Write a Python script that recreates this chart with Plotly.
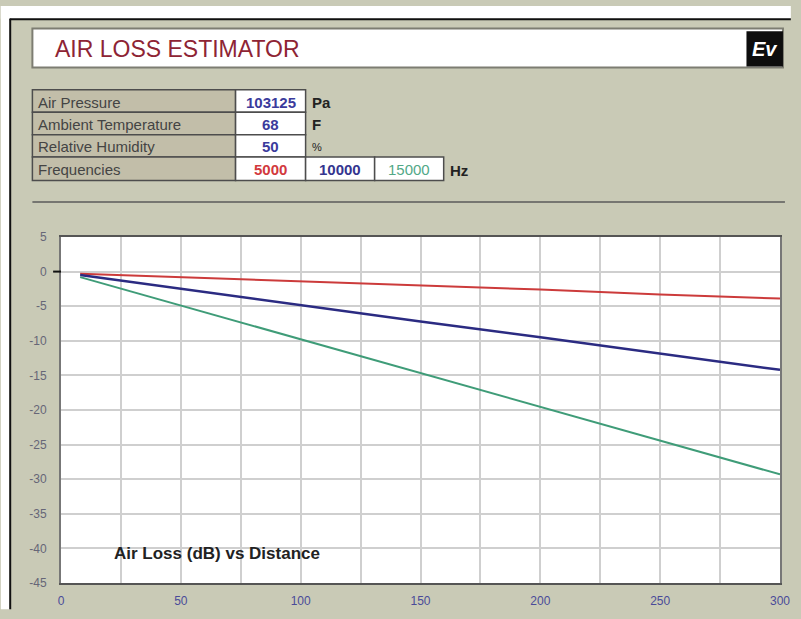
import plotly.graph_objects as go

# ---- data ----
distance = [8, 50, 100, 150, 200, 250, 300]
loss_5000 = [-0.3, -0.8, -1.4, -2.0, -2.6, -3.3, -3.9]
loss_10000 = [-0.5, -2.5, -4.8, -7.2, -9.5, -11.9, -14.2]
loss_15000 = [-0.8, -4.9, -9.8, -14.7, -19.6, -24.4, -29.3]

y_tickvals = [5, 0, -5, -10, -15, -20, -25, -30, -35, -40, -45]
y_ticktext = ["5", "0", "-5", "-10", "-15", "-20", "-25", "-30", "-35", "-40", "-45"]
x_tickvals = [0, 50, 100, 150, 200, 250, 300]
x_ticktext = ["0", "50", "100", "150", "200", "250", "300"]

param_labels = ["Air Pressure", "Ambient Temperature", "Relative Humidity", "Frequencies"]
param_values = ["103125", "68", "50"]
param_units = ["Pa", "F", "%"]
freq_values = ["5000", "10000", "15000"]
freq_unit = "Hz"
title_text = "AIR LOSS ESTIMATOR"
chart_label = "Air Loss (dB) vs Distance"

W, H = 801, 619
L, R, T, B = 61, 790, 237, 592
PW, PH = R - L, B - T

def px(x):
    return (x - L) / PW

def py(y):
    return (B - y) / PH

BG = "#c9cab6"
FONT = "Liberation Sans, Arial, sans-serif"

fig = go.Figure()
fig.add_trace(go.Scatter(x=distance, y=loss_5000, mode="lines", line=dict(color="#cc3b3b", width=2), name="5000"))
fig.add_trace(go.Scatter(x=distance, y=loss_10000, mode="lines", line=dict(color="#2b2b82", width=2.5), name="10000"))
fig.add_trace(go.Scatter(x=distance, y=loss_15000, mode="lines", line=dict(color="#3f9c78", width=2), name="15000"))

shapes = []
annotations = []

def rect(x0, y0, x1, y1, fill, line="rgba(0,0,0,0)", lw=0):
    shapes.append(dict(type="rect", xref="paper", yref="paper", x0=px(x0), x1=px(x1), y0=py(y1), y1=py(y0),
                       fillcolor=fill, line=dict(color=line, width=lw), layer="below"))

def hline(x0, x1, y, color, lw):
    shapes.append(dict(type="line", xref="paper", yref="paper", x0=px(x0), x1=px(x1), y0=py(y), y1=py(y),
                       line=dict(color=color, width=lw), layer="above"))

def vline(x, y0, y1, color, lw):
    shapes.append(dict(type="line", xref="paper", yref="paper", x0=px(x), x1=px(x), y0=py(y0), y1=py(y1),
                       line=dict(color=color, width=lw), layer="above"))

def text(x, y, s, size, color, bold=False, xanchor="left", italic=False):
    if bold:
        s = "<b>" + s + "</b>"
    if italic:
        s = "<i>" + s + "</i>"
    annotations.append(dict(xref="paper", yref="paper", x=px(x), y=py(y), text=s, showarrow=False,
                            xanchor=xanchor, yanchor="middle", font=dict(family=FONT, size=size, color=color)))

# outside-frame white strips
rect(0, 0, W, 13, "white")
rect(0, 0, 9, H, "white")
hline(9, W, 13.5, "#111111", 2)
vline(9.5, 13, H, "#111111", 2)

# title box
rect(32, 23, 793, 63, "white", "#7d7d72", 2)
text(53, 44, title_text, 23, "#8e2434")
rect(756, 26, 793, 62, "#0d0d0d")
text(774.5, 44, "Ev", 20, "white", bold=True, xanchor="center", italic=True)

# parameter table
rows = [86, 109, 132, 155, 179]
for i, lab in enumerate(param_labels):
    y0, y1 = rows[i], rows[i + 1]
    rect(32, y0, 238, y1, "#c2bea9", "#4d4d4d", 1.5)
    text(36, (y0 + y1) / 2 + 1, lab, 15, "#444444")
value_cols = [(238, 309), (309, 379), (379, 449)]
value_color = "#3b3b9c"
for i, v in enumerate(param_values):
    y0, y1 = rows[i], rows[i + 1]
    x0, x1 = value_cols[0]
    rect(x0, y0, x1, y1, "white", "#4d4d4d", 1.5)
    text((x0 + x1) / 2, (y0 + y1) / 2 + 1, v, 15, value_color, bold=True, xanchor="center")
    text(313, (y0 + y1) / 2 + 1, param_units[i], 15 if i < 2 else 11, "#222222", bold=(i < 2))
freq_colors = ["#d2393d", "#35358f", "#52a887"]
y0, y1 = rows[3], rows[4]
for (x0, x1), v, c in zip(value_cols, freq_values, freq_colors):
    rect(x0, y0, x1, y1, "white", "#4d4d4d", 1.5)
    text((x0 + x1) / 2, (y0 + y1) / 2 + 1, v, 15, c, bold=(c != "#52a887"), xanchor="center")
text(453, (y0 + y1) / 2 + 2, freq_unit, 15, "#222222", bold=True)

# separator
hline(32, 795, 201, "#5a5a5a", 1.5)

# zero tick
shapes.append(dict(type="line", xref="paper", yref="y", x0=px(53), x1=0, y0=0, y1=0,
                   line=dict(color="#111111", width=2), layer="above"))

# chart label
annotations.append(dict(xref="x", yref="y", x=65, y=-40.8, text="<b>" + chart_label + "</b>", showarrow=False,
                        xanchor="center", yanchor="middle", font=dict(family=FONT, size=17, color="#222222")))

fig.update_layout(
    width=W, height=H,
    margin=dict(l=L, r=W - R, t=T, b=H - B, pad=0),
    paper_bgcolor=BG, plot_bgcolor="white",
    showlegend=False,
    shapes=shapes, annotations=annotations,
    font=dict(family=FONT),
)
fig.update_xaxes(range=[0, 300], tickvals=x_tickvals, ticktext=x_ticktext,
                 showgrid=True, gridcolor="#cfcfcf", gridwidth=1.5,
                 minor=dict(dtick=25, tick0=0, showgrid=True, gridcolor="#cfcfcf", gridwidth=1.5),
                 showline=True, linecolor="#555555", linewidth=2, mirror=True, zeroline=False,
                 tickfont=dict(size=12, color="#4a4a99"), ticks="", ticklabelstandoff=6)
fig.update_yaxes(range=[-45, 5], tickvals=y_tickvals, ticktext=y_ticktext,
                 showgrid=True, gridcolor="#cfcfcf", gridwidth=1.5,
                 showline=True, linecolor="#777777", linewidth=2, mirror=True, zeroline=False,
                 tickfont=dict(size=12, color="#666677"), ticks="", ticklabelstandoff=10)

post = (
    "var d=document.getElementById('{plot_id}');"
    "document.documentElement.style.margin='0';document.documentElement.style.padding='0';"
    "document.documentElement.style.overflow='hidden';"
    "document.body.style.margin='0';document.body.style.padding='0';document.body.style.overflow='hidden';"
    "d.style.position='fixed';d.style.left='0px';d.style.top='0px';"
)
fig.write_html("out.html", config={"displayModeBar": False}, post_script=post)
